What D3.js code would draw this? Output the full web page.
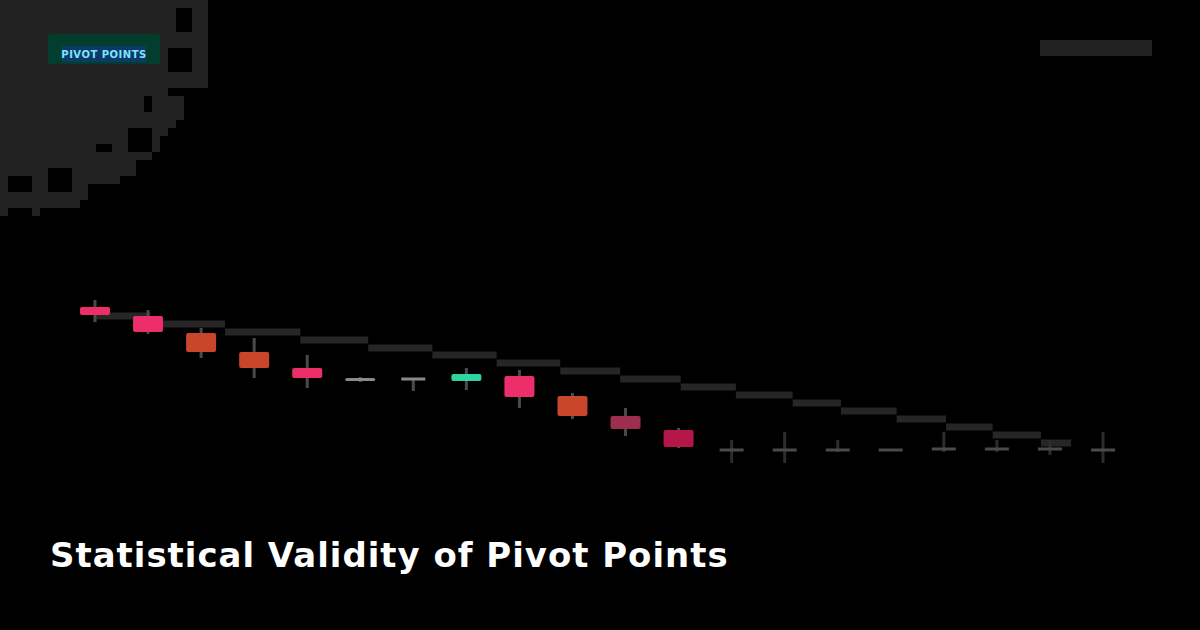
<!DOCTYPE html>
<html>
<head>
<meta charset="utf-8">
<script src="https://cdn.jsdelivr.net/npm/d3@7"></script>
<style>
  html, body { margin: 0; background: #000; }
  svg { display: block; }
</style>
</head>
<body>
<script>
// Daily sessions and OHLC prices
const sessions = d3.range(1, 21);
const open  = [181.5, 177, 168.5, 159, 151, 146, 145.5, 144.5, 147, 137, 127, 120, 110, 110, 110, 110, 110.5, 110.5, 110.5, 110];
const close = [177.5, 169, 159, 151, 146, 144.5, 145, 148, 136.5, 127, 120.5, 111.5, 110, 110, 110, 110, 110.5, 110.5, 110.5, 110];
const high  = [185, 180, 171, 166, 157.5, 146.5, 146, 151, 150, 138.5, 131, 121, 115, 119, 115, 110, 119, 115, 115, 119];
const low   = [174, 168, 156, 146, 141, 144, 139.5, 140, 131, 125.5, 117, 111, 103.5, 103.5, 109, 110, 109, 109, 107.5, 103.5];
const signal = ["rejected", "rejected", "broken", "broken", "rejected", "neutral", "neutral", "held",
                "rejected", "broken", "weak", "failed", "idle", "idle", "idle", "idle", "idle", "idle", "idle", "idle"];

// Stepped pivot level: session position where each level starts, and its price
const pivotStart = [0, 1.04, 2.45, 3.87, 5.15, 6.36, 7.57, 8.77, 9.9, 11.04, 12.08, 13.15, 14.06, 15.11, 16.04, 16.92, 17.83];
const pivotEnd = 18.4;
const pivotLevel = [177, 173, 169, 165, 161, 157.5, 153.5, 149.5, 145.5, 141.5, 137.5, 133.5, 129.5, 125.5, 121.5, 117.5, 113.5];

const title = "Statistical Validity of Pivot Points";
const badge = "PIVOT POINTS";

const W = 1200, H = 630;
const svg = d3.select("body").append("svg").attr("width", W).attr("height", H);
svg.append("rect").attr("width", W).attr("height", H).attr("fill", "#000");

// Corner tile pattern: 8px cells, each row filled up to its edge, with a few open tiles
const rowEdge = [208, 208, 208, 208, 208, 208, 208, 208, 208, 208, 208, 168, 184, 184, 184, 176,
                 168, 160, 160, 152, 136, 136, 120, 88, 88, 80, 40];
const holes = [[176, 8, 16, 24], [168, 48, 24, 24], [144, 96, 8, 16], [128, 128, 24, 24],
               [96, 144, 16, 8], [48, 168, 24, 24], [8, 176, 24, 16], [8, 208, 24, 8]];
const inHole = (px, py) => holes.some(([hx, hy, hw, hh]) => px >= hx && px < hx + hw && py >= hy && py < hy + hh);
const cells = [];
rowEdge.forEach((edge, r) => {
  for (let px = 0; px < edge; px += 8) {
    const py = r * 8;
    if (!inHole(px, py)) cells.push([px, py]);
  }
});
svg.append("g").selectAll("rect").data(cells).join("rect")
  .attr("x", d => d[0]).attr("y", d => d[1])
  .attr("width", 8).attr("height", 8)
  .attr("fill", "#222");

// Badge
const bg = svg.append("g");
bg.append("rect").attr("x", 48).attr("y", 34).attr("width", 112).attr("height", 30).attr("rx", 3).attr("fill", "#023d2e");
bg.append("rect").attr("x", 62).attr("y", 46).attr("width", 84).attr("height", 16).attr("fill", "#0b3a66");
bg.append("text").attr("x", 104).attr("y", 58).attr("text-anchor", "middle")
  .attr("font-family", "DejaVu Sans, sans-serif").attr("font-size", 10).attr("font-weight", "bold")
  .attr("letter-spacing", 0.5).attr("fill", "#7fe3ff").text(badge);

// Brand mark top right
svg.append("rect").attr("x", 1040).attr("y", 40).attr("width", 112).attr("height", 16).attr("fill", "#222");

// Scales
const x = d3.scaleLinear().domain([0, 19]).range([95, 1103]);
const y = d3.scaleLinear().domain([100, 190]).range([470, 290]);
const color = d3.scaleOrdinal()
  .domain(["rejected", "broken", "weak", "failed", "held", "neutral", "idle"])
  .range(["#ec2f6b", "#c9452c", "#9c2f50", "#b5164a", "#2fd3a0", "#8a8a8a", "#4a4a4a"]);

// Pivot steps
const steps = pivotStart.map((s, i) => ({ s, e: i < pivotStart.length - 1 ? pivotStart[i + 1] : pivotEnd, v: pivotLevel[i] }));
svg.append("g").selectAll("rect").data(steps).join("rect")
  .attr("x", d => x(d.s)).attr("width", d => x(d.e) - x(d.s))
  .attr("y", d => y(d.v) - 3.5).attr("height", 7)
  .attr("fill", "#262626");

// Candles
const data = sessions.map((s, i) => ({ i, o: open[i], c: close[i], h: high[i], l: low[i], sig: signal[i] }));
const isDoji = d => Math.abs(d.o - d.c) < 1;
const g = svg.append("g").selectAll("g").data(data).join("g");
g.append("rect")
  .attr("x", d => x(d.i) - 1.5).attr("width", 3)
  .attr("y", d => y(d.h)).attr("height", d => Math.max(1, y(d.l) - y(d.h)))
  .attr("fill", d => d.sig === "idle" ? "#2c2c2c" : "#4a4a4a");
g.append("rect")
  .attr("x", d => x(d.i) - (isDoji(d) ? 12 : 15))
  .attr("width", d => isDoji(d) ? 24 : 30)
  .attr("y", d => isDoji(d) ? y(Math.max(d.o, d.c)) - 1.5 : y(Math.max(d.o, d.c)))
  .attr("height", d => isDoji(d) ? 3 : y(Math.min(d.o, d.c)) - y(Math.max(d.o, d.c)))
  .attr("rx", d => isDoji(d) ? 0 : 2)
  .attr("fill", d => color(d.sig));

// Title, sized to its measured width
const t = svg.append("text").attr("x", 50).attr("y", 567)
  .attr("font-family", "DejaVu Sans, sans-serif").attr("font-weight", "bold")
  .attr("font-size", 32).attr("letter-spacing", 1).attr("fill", "#fff").text(title);
const w = t.node().getComputedTextLength();
t.attr("font-size", 32 * 681 / w);
</script>
</body>
</html>
